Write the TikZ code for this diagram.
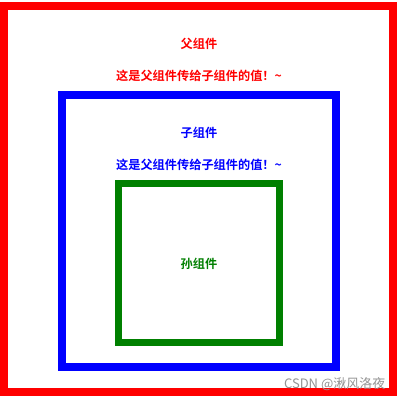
\documentclass[tikz,border=0pt]{standalone}
\usepackage{fontspec}
\newfontfamily\cjk{Noto Sans CJK SC}[BoldFont={Noto Sans CJK SC Bold}]
\definecolor{dkgreen}{RGB}{0,128,0}
\tikzset{
  frame/.style={draw=#1, line width=7.5pt},
  lbl/.style={text=#1, font=\cjk\bfseries\fontsize{12.2}{14}\selectfont, inner sep=0pt}
}
\begin{document}
\begin{tikzpicture}[x=1pt,y=-1pt]
\useasboundingbox (0,0) rectangle (400,400);
\path[fill=white] (0,0) rectangle (400,400);
\draw[frame=red] (4,5.8) rectangle (393,392);
\draw[frame=blue] (62,95) rectangle (335.9,367);
\draw[frame=dkgreen, line width=7.2pt] (118.7,183.7) rectangle (279.2,342.5);
\node[lbl=red] (p1) at (199,43.5) {父组件};
\node[lbl=red] (p2) at (199,76) {这是父组件传给子组件的值！\textasciitilde};
\node[lbl=blue] (c1) at (199,132.7) {子组件};
\node[lbl=blue] (c2) at (199,164.5) {这是父组件传给子组件的值！\textasciitilde};
\node[lbl=dkgreen] (g1) at (199,264) {孙组件};
\node[text=black!42, font=\cjk\fontsize{13}{15}\selectfont, inner sep=0pt, anchor=east] (wm) at (385.5,384) {CSDN @湫风洛夜};
\end{tikzpicture}
\end{document}
